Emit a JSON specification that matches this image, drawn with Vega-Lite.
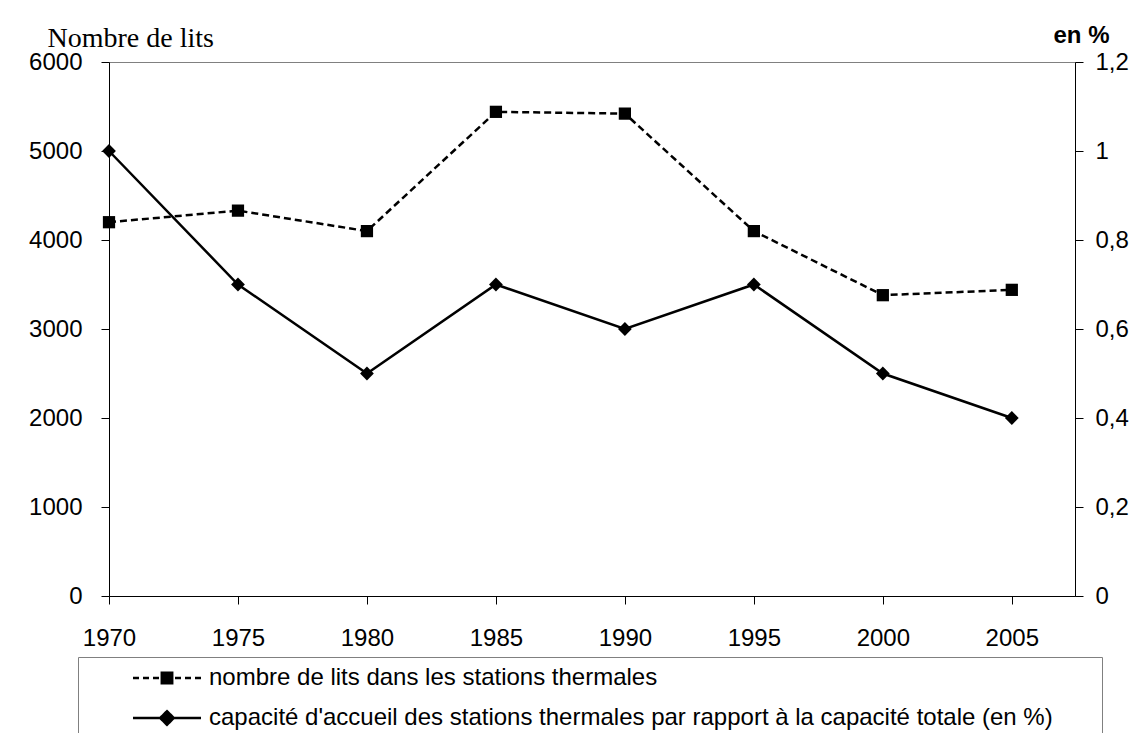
{
  "$schema": "https://vega.github.io/schema/vega-lite/v6.json",
  "width": 966,
  "height": 534,
  "autosize": "none",
  "padding": {"left": 109, "top": 62, "right": 67, "bottom": 137},
  "background": "white",
  "config": {
    "font": "Liberation Sans",
    "view": {"stroke": "#808080", "strokeWidth": 1},
    "axis": {
      "grid": false,
      "domainColor": "black",
      "domainWidth": 1,
      "tickColor": "black",
      "tickSize": 8,
      "labelColor": "black",
      "labelFontSize": 24,
      "labelFont": "Liberation Sans",
      "titleColor": "black"
    }
  },
  "data": {
    "values": [
      {"year": 1970, "lits": 4200, "pct": 1.0},
      {"year": 1975, "lits": 4330, "pct": 0.7},
      {"year": 1980, "lits": 4100, "pct": 0.5},
      {"year": 1985, "lits": 5440, "pct": 0.7},
      {"year": 1990, "lits": 5420, "pct": 0.6},
      {"year": 1995, "lits": 4100, "pct": 0.7},
      {"year": 2000, "lits": 3380, "pct": 0.5},
      {"year": 2005, "lits": 3440, "pct": 0.4}
    ]
  },
  "layer": [
    {
      "mark": {
        "type": "line",
        "strokeDash": [7, 4],
        "strokeWidth": 2.5,
        "point": {"shape": "square", "size": 150, "filled": true, "strokeWidth": 0}
      },
      "encoding": {
        "x": {
          "field": "year",
          "type": "quantitative",
          "scale": {"domain": [1970, 2007.45], "nice": false, "zero": false},
          "axis": {
            "values": [1970, 1975, 1980, 1985, 1990, 1995, 2000, 2005],
            "format": "d",
            "title": null,
            "labelPadding": 22,
            "labelFlush": false,
            "labelOverlap": false
          }
        },
        "y": {
          "field": "lits",
          "type": "quantitative",
          "scale": {"domain": [0, 6000], "nice": false},
          "axis": {
            "orient": "left",
            "values": [0, 1000, 2000, 3000, 4000, 5000, 6000],
            "format": "d",
            "labelPadding": 19,
            "title": "Nombre de lits",
            "titleAngle": 0,
            "titleFont": "Liberation Serif",
            "titleFontSize": 28,
            "titleFontWeight": "normal",
            "titleAlign": "left",
            "titleBaseline": "alphabetic",
            "titleX": -62,
            "titleY": -16
          }
        },
        "color": {
          "datum": "nombre de lits dans les stations thermales",
          "type": "nominal",
          "scale": {
            "domain": [
              "nombre de lits dans les stations thermales",
              "capacité d'accueil des stations thermales par rapport à la capacité totale (en %)"
            ],
            "range": ["black", "black"]
          },
          "legend": {
            "orient": "none",
            "legendX": -31,
            "legendY": 595,
            "title": null,
            "direction": "vertical",
            "padding": 9,
            "strokeColor": "#808080",
            "fillColor": "white",
            "labelFontSize": 24,
            "labelFont": "Liberation Sans",
            "labelColor": "black",
            "labelLimit": 2000,
            "symbolSize": 64,
            "symbolStrokeWidth": 2,
            "symbolOffset": 68,
            "labelOffset": 30,
            "rowPadding": 16,
            "symbolFillColor": "black",
            "symbolStrokeColor": "black",
            "labelExpr": "datum.value === 'nombre de lits dans les stations thermales' ? datum.label : datum.label + '\u00a0\u00a0\u00a0\u00a0\u00a0\u00a0\u200b'",
            "encode": {
              "symbols": {
                "update": {
                  "shape": {"signal": "datum.value === 'nombre de lits dans les stations thermales' ? 'M-8.5,0H-7M-6,0H-4.5M-3.5,0H-2M-1.3,-1.3H1.3V1.3H-1.3ZM2,0H3.5M4.5,0H6M7,0H8.5' : 'M-8.5,0H8.5M0,-1.7L1.7,0L0,1.7L-1.7,0Z'"},
                  "fill": {"value": "black"},
                  "stroke": {"value": "black"},
                  "strokeWidth": {"value": 2.5},
                  "strokeDash": {"value": [1, 0]},
                  "opacity": {"value": 1}
                }
              }
            }
          }
        }
      }
    },
    {
      "mark": {
        "type": "line",
        "strokeWidth": 2.5,
        "point": {"shape": "diamond", "size": 190, "filled": true, "strokeWidth": 0}
      },
      "encoding": {
        "x": {
          "field": "year",
          "type": "quantitative",
          "scale": {"domain": [1970, 2007.45], "nice": false, "zero": false}
        },
        "y": {
          "field": "pct",
          "type": "quantitative",
          "scale": {"domain": [0, 1.2], "nice": false},
          "axis": {
            "orient": "right",
            "values": [0, 0.2, 0.4, 0.6, 0.8, 1, 1.2],
            "labelExpr": "replace(format(datum.value, '~g'), '.', ',')",
            "labelPadding": 12,
            "title": "en %",
            "titleAngle": 0,
            "titleFont": "Liberation Sans",
            "titleFontSize": 24,
            "titleFontWeight": "bold",
            "titleAlign": "left",
            "titleBaseline": "alphabetic",
            "titleX": -22,
            "titleY": -20
          }
        },
        "color": {
          "datum": "capacité d'accueil des stations thermales par rapport à la capacité totale (en %)",
          "type": "nominal"
        }
      }
    }
  ],
  "resolve": {"scale": {"y": "independent"}}
}
